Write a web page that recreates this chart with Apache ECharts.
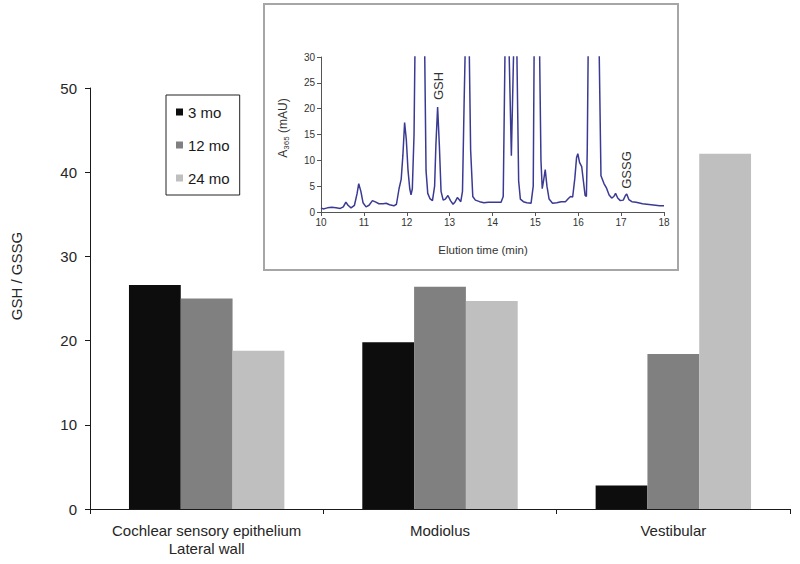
<!DOCTYPE html>
<html>
<head>
<meta charset="utf-8">
<script src="https://cdn.jsdelivr.net/npm/echarts@6/dist/echarts.min.js"></script>
<style>
html,body{margin:0;padding:0;background:#fff;}
#c{width:800px;height:564px;}
</style>
</head>
<body>
<div id="c"></div>
<script>
// ---- main bar chart data ----
var categories = ['Cochlear sensory epithelium\nLateral wall', 'Modiolus', 'Vestibular'];
var seriesNames = ['3 mo', '12 mo', '24 mo'];
var values3mo = [26.6, 19.8, 2.8];
var values12mo = [25.0, 26.4, 18.4];
var values24mo = [18.8, 24.7, 42.2];
var yTicks = [0, 10, 20, 30, 40, 50];

// ---- inset chromatogram data (time in min, absorbance in mAU; peaks beyond 30 are off-scale) ----
var chromTime = [10.0,10.05,10.15,10.25,10.35,10.45,10.52,10.58,10.63,10.7,10.78,10.84,10.88,10.93,10.98,11.05,11.12,11.2,11.28,11.35,11.45,11.52,11.6,11.7,11.76,11.82,11.87,11.91,11.95,11.99,12.03,12.07,12.1,12.13,12.17,12.19,12.3,12.42,12.45,12.49,12.54,12.6,12.65,12.68,12.72,12.76,12.8,12.85,12.9,12.96,13.02,13.08,13.13,13.18,13.22,13.26,13.3,13.34,13.36,13.41,13.46,13.49,13.54,13.6,13.7,13.8,13.9,14.0,14.1,14.2,14.25,14.29,14.34,14.39,14.44,14.49,14.53,14.57,14.61,14.65,14.72,14.8,14.9,14.95,14.97,15.04,15.1,15.13,15.16,15.19,15.23,15.27,15.32,15.4,15.5,15.6,15.7,15.77,15.82,15.87,15.92,15.96,15.99,16.03,16.08,16.12,16.16,16.19,16.21,16.23,16.36,16.49,16.53,16.6,16.66,16.72,16.78,16.83,16.87,16.92,16.98,17.05,17.1,17.13,17.18,17.25,17.35,17.5,17.7,17.9,18.0];
var chromAbs  = [0.8,0.6,0.8,0.9,0.8,0.7,1.0,1.9,1.3,0.8,1.3,3.5,5.5,4.0,1.8,1.0,1.3,2.2,1.9,1.6,1.6,1.7,1.4,1.2,1.5,4.5,6.3,11.0,17.3,14.0,8.0,4.5,3.3,4.5,15.0,30,150,30,8.0,3.6,2.6,2.2,5.0,13.0,20.3,13.0,4.0,2.3,2.5,3.2,2.2,1.5,2.0,2.8,2.4,2.0,4.0,22,30,150,30,12,3.0,2.3,2.0,1.8,1.9,1.9,1.9,1.9,3.0,30,100,30,10.9,30,100,30,6.0,2.5,2.0,1.8,1.7,5.0,30,120,30,10,4.5,6.0,8.2,5.0,2.5,1.7,1.8,2.0,2.0,2.6,3.0,2.9,6.5,10.5,11.3,9.6,8.8,6.0,3.2,3.0,12,30,150,30,7.0,5.5,4.6,3.3,2.7,3.0,3.6,2.7,2.2,2.3,3.2,3.5,2.4,2.0,1.9,1.6,1.4,1.2,1.2];
var chromXTicks = [10, 11, 12, 13, 14, 15, 16, 17, 18];
var chromYTicks = [0, 5, 10, 15, 20, 25, 30];

var FONT = '"Liberation Sans", Arial, sans-serif';
var chromData = chromTime.map(function (t, i) { return [t, chromAbs[i]]; });

var chart = echarts.init(document.getElementById('c'), null, {renderer: 'svg'});
chart.setOption({
  animation: false,
  backgroundColor: '#ffffff',
  textStyle: {fontFamily: FONT},
  color: ['#0d0d0d', '#808080', '#bfbfbf'],
  legend: {
    data: seriesNames,
    orient: 'vertical',
    left: 166,
    top: 95,
    itemWidth: 7,
    itemHeight: 7,
    itemGap: 17,
    icon: 'rect',
    padding: [9, 10, 9, 10],
    borderColor: '#222',
    borderWidth: 1,
    textStyle: {fontSize: 15, lineHeight: 16, color: '#1a1a1a', fontFamily: FONT}
  },
  grid: [
    {left: 90, right: 10, top: 88, bottom: 55, containLabel: false},
    {left: 321, right: 136, top: 57, bottom: 352, containLabel: false}
  ],
  xAxis: [
    {
      type: 'category', gridIndex: 0, data: categories,
      axisLine: {lineStyle: {color: '#1a1a1a', width: 1}},
      axisTick: {show: true, length: 5, lineStyle: {color: '#1a1a1a'}},
      axisLabel: {fontSize: 15, lineHeight: 18, color: '#262626', margin: 12, fontFamily: FONT, interval: 0}
    },
    {
      type: 'value', gridIndex: 1, min: chromXTicks[0], max: chromXTicks[chromXTicks.length - 1], interval: 1,
      splitLine: {show: false},
      axisLine: {lineStyle: {color: '#555', width: 1}},
      axisTick: {show: true, length: 4, lineStyle: {color: '#555'}},
      axisLabel: {fontSize: 10, color: '#333', margin: 5, fontFamily: FONT}
    }
  ],
  yAxis: [
    {
      type: 'value', gridIndex: 0, min: yTicks[0], max: yTicks[yTicks.length - 1], interval: 10,
      splitLine: {show: false},
      axisLine: {show: true, lineStyle: {color: '#1a1a1a', width: 1}},
      axisTick: {show: true, length: 5, lineStyle: {color: '#1a1a1a'}},
      axisLabel: {fontSize: 15, color: '#262626', margin: 13, fontFamily: FONT}
    },
    {
      type: 'value', gridIndex: 1, min: chromYTicks[0], max: chromYTicks[chromYTicks.length - 1], interval: 5,
      splitLine: {show: false},
      axisLine: {show: true, lineStyle: {color: '#555', width: 1}},
      axisTick: {show: true, length: 4, lineStyle: {color: '#555'}},
      axisLabel: {fontSize: 10, color: '#333', margin: 6, fontFamily: FONT}
    }
  ],
  graphic: [
    {type: 'rect', z: -10, shape: {x: 264, y: 4, width: 414, height: 266},
     style: {fill: '#ffffff', stroke: '#a6a6a6', lineWidth: 2}},
    {type: 'text', x: 16, y: 276, rotation: Math.PI / 2,
     style: {text: 'GSH / GSSG', fontSize: 15, fontFamily: FONT, fill: '#262626', align: 'center', verticalAlign: 'middle', textAlign: 'center', textVerticalAlign: 'middle'}},
    {type: 'text', x: 483, y: 250,
     style: {text: 'Elution time (min)', fontSize: 11.5, fontFamily: FONT, fill: '#333', align: 'center', verticalAlign: 'middle', textAlign: 'center', textVerticalAlign: 'middle'}},
    {type: 'text', x: 283, y: 128, rotation: Math.PI / 2,
     style: {text: '{a|A}{s|365}{a| (mAU)}', fontFamily: FONT, fill: '#333', align: 'center', verticalAlign: 'middle', textAlign: 'center', textVerticalAlign: 'middle',
       rich: {a: {fontSize: 12, fontFamily: FONT, fill: '#333', lineHeight: 14, verticalAlign: 'middle'},
              s: {fontSize: 8, fontFamily: FONT, fill: '#333', lineHeight: 14, verticalAlign: 'bottom'}}}},
    {type: 'text', x: 438, y: 86, rotation: Math.PI / 2,
     style: {text: 'GSH', fontSize: 13, fontFamily: FONT, fill: '#333', align: 'center', verticalAlign: 'middle', textAlign: 'center', textVerticalAlign: 'middle'}},
    {type: 'text', x: 626, y: 170, rotation: Math.PI / 2,
     style: {text: 'GSSG', fontSize: 13, fontFamily: FONT, fill: '#333', align: 'center', verticalAlign: 'middle', textAlign: 'center', textVerticalAlign: 'middle'}}
  ],
  series: [
    {name: seriesNames[0], type: 'bar', xAxisIndex: 0, yAxisIndex: 0, data: values3mo, barGap: '0%', barCategoryGap: '33.4%', itemStyle: {color: '#0d0d0d'}},
    {name: seriesNames[1], type: 'bar', xAxisIndex: 0, yAxisIndex: 0, data: values12mo, barGap: '0%', barCategoryGap: '33.4%', itemStyle: {color: '#808080'}},
    {name: seriesNames[2], type: 'bar', xAxisIndex: 0, yAxisIndex: 0, data: values24mo, barGap: '0%', barCategoryGap: '33.4%', itemStyle: {color: '#bfbfbf'}},
    {name: 'chromatogram', type: 'line', xAxisIndex: 1, yAxisIndex: 1, data: chromData, showSymbol: false, symbol: 'none',
     clip: true, smooth: false, lineStyle: {color: '#3a3a94', width: 1.5}, z: 5}
  ]
});
</script>
</body>
</html>
